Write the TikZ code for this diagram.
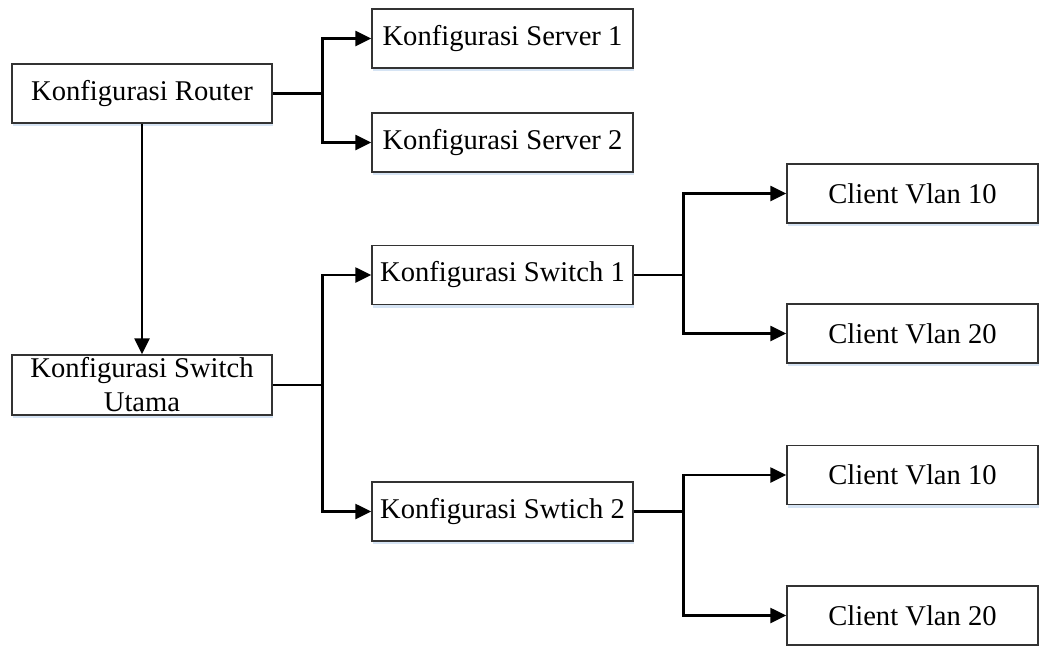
\documentclass[tikz,border=0pt]{standalone}
\usepackage{fontspec}
\setmainfont{Liberation Serif}
\usetikzlibrary{arrows.meta,shadows}
\begin{document}
\begin{tikzpicture}[x=1pt,y=-1pt,
  box/.style={draw=black!80, line width=1.5pt, fill=white, rectangle, inner sep=0pt,
    minimum width=#1, minimum height=59pt, align=center,
    font=\fontsize{28.6}{34}\selectfont,
    drop shadow={shadow xshift=1pt, shadow yshift=-3pt, fill={rgb,255:red,214;green,228;blue,244}, opacity=1}},
  box/.default=260pt,
  conn/.style={line width=2.6pt, line join=miter},
  arr/.style={conn, -{Triangle[length=16pt,width=15pt]}}]
\useasboundingbox (0,0) rectangle (1040,645);
% nodes
\node[box] (router) at (142,93.5) {Konfigurasi Router};
\node[box=261pt] (srv1) at (502.5,38.5) {Konfigurasi Server 1};
\node[box=261pt] (srv2) at (502.5,142.5) {Konfigurasi Server 2};
\node[box, minimum height=60pt] (swu) at (142,385) {Konfigurasi Switch\\Utama};
\node[box=261pt] (sw1) at (502.5,275) {Konfigurasi Switch 1};
\node[box=261pt] (sw2) at (502.5,511.5) {Konfigurasi Swtich 2};
\node[box=251pt] (c1) at (912.5,193.5) {Client Vlan 10};
\node[box=251pt] (c2) at (912.5,333.5) {Client Vlan 20};
\node[box=251pt] (c3) at (912.5,475) {Client Vlan 10};
\node[box=251pt] (c4) at (912.5,615.5) {Client Vlan 20};
% connectors
\draw[arr] (router.east) -- ++(50,0) |- (srv1.west);
\draw[arr] (router.east) -- ++(50,0) |- (srv2.west);
\draw[arr] (router.south) -- (swu.north);
\draw[arr] (swu.east) -- ++(50,0) |- (sw1.west);
\draw[arr] (swu.east) -- ++(50,0) |- (sw2.west);
\draw[arr] (sw1.east) -- ++(50,0) |- (c1.west);
\draw[arr] (sw1.east) -- ++(50,0) |- (c2.west);
\draw[arr] (sw2.east) -- ++(50,0) |- (c3.west);
\draw[arr] (sw2.east) -- ++(50,0) |- (c4.west);
\end{tikzpicture}
\end{document}
